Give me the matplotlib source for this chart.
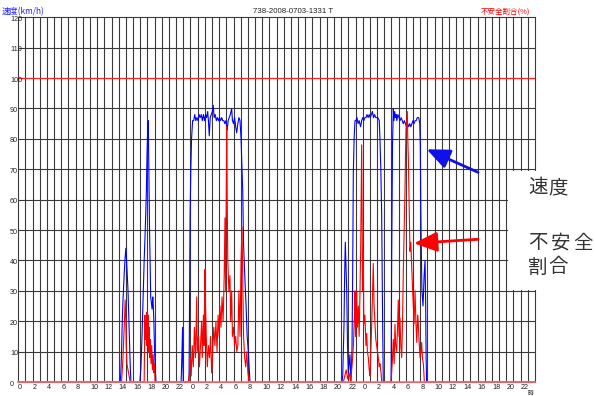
import matplotlib
matplotlib.use("Agg")
import matplotlib.pyplot as plt
from matplotlib.patches import Rectangle
from matplotlib.transforms import blended_transform_factory, offset_copy

plt.rcParams['font.family'] = ['Noto Sans CJK JP', 'DejaVu Sans']

# ---------------- data ----------------
title_text = "738-2008-0703-1331 T"
left_label = "速度(km/h)"
right_label = "不安全割合(%)"
y_ticks = list(range(0, 121, 10))
x_hours = list(range(0, 73))
x_tick_labels = [str(h % 24) if (h % 2 == 0 and h < 72) else "" for h in x_hours]

blue_hours = [0,
    14.2, 14.3, 14.4, 14.5, 14.6, 14.7, 14.8, 14.9, 15.0, 15.1, 15.2, 15.3, 15.4, 15.5, 15.6, 15.7,
    16.95, 17.1, 17.25, 17.4, 17.55, 17.7, 17.85, 17.95, 18.05, 18.12, 18.2, 18.3, 18.4, 18.46, 18.55,
    18.65, 18.75, 18.82, 18.9, 19.0, 19.1, 19.2,
    22.7, 22.8, 22.9, 22.95, 23.0, 23.8, 23.88, 23.95, 24.05, 24.15, 24.3, 24.45, 24.6, 24.75, 24.9,
    25.05, 25.2, 25.35, 25.5, 25.65, 25.8, 25.95, 26.1, 26.25, 26.4, 26.5, 26.62, 26.75, 26.9, 27.05,
    27.18, 27.3, 27.45, 27.6, 27.75, 27.9, 28.05, 28.2, 28.35, 28.5, 28.65, 28.8, 28.95, 29.05, 29.13,
    29.25, 29.4, 29.55, 29.74, 29.85, 30.0, 30.15, 30.3, 30.44, 30.6, 30.75, 30.9, 31.05, 31.15, 31.28,
    31.4, 31.6, 31.75, 31.9, 32.06, 32.15, 32.29,
    45.1, 45.21, 45.3, 45.39, 45.48, 45.57, 45.67, 45.77, 45.88, 45.99, 46.1, 46.22, 46.36, 46.5, 46.6,
    46.69, 46.8, 46.92, 47.05, 47.2, 47.35, 47.5, 47.6, 47.7, 47.85, 48.0, 48.15, 48.3, 48.45, 48.6,
    48.75, 48.9, 49.05, 49.2, 49.35, 49.5, 49.65, 49.8, 49.95, 50.1, 50.3, 50.4, 50.52, 50.64, 50.75,
    50.86, 51.95, 52.03, 52.15, 52.26, 52.35, 52.45, 52.55, 52.65, 52.75, 52.9, 53.05, 53.2, 53.35,
    53.5, 53.65, 53.8, 53.95, 54.1, 54.25, 54.4, 54.55, 54.7, 54.85, 55.0, 55.15, 55.3, 55.45, 55.6,
    55.8, 55.95, 56.02, 56.08, 56.15, 56.25, 56.4, 56.55, 56.68, 56.77, 56.83, 56.9,
    72]
blue_kmh = [0,
    0, 3, 10, 20, 27, 32, 37, 41, 44, 40, 35, 30, 22, 15, 6, 0,
    0, 5, 15, 28, 40, 50, 62, 75, 84, 86, 70, 50, 35, 28, 26,
    24, 28, 25, 20, 10, 4, 0,
    0, 8, 18, 6, 0, 0, 30, 55, 70, 80, 86, 86, 88, 86, 87,
    86, 88, 87, 88, 86, 88, 86, 88, 87, 89, 86, 81, 87, 88, 89,
    91, 87, 88, 86, 87, 86, 87, 86, 87, 86, 86, 85, 86, 84, 83,
    86, 87, 88, 90, 86, 85, 87, 84, 82, 85, 87, 86, 80, 72, 63,
    45, 33, 25, 15, 10, 6, 0,
    0, 2, 10, 19, 35, 46, 38, 30, 12, 3, 6, 9, 0, 10, 36,
    69, 80, 86, 86, 87, 85, 86, 85, 84, 86, 87, 86, 87, 87, 88,
    87, 88, 87, 88, 89, 87, 88, 87, 87, 87, 86, 80, 70, 55, 25,
    0, 0, 40, 78, 90, 86, 89, 87, 88, 86, 88, 87, 86, 87,
    86, 85, 86, 85, 84, 85, 84, 85, 84, 85, 86, 85, 86, 86, 87,
    87, 85, 78, 60, 45, 30, 25, 35, 40, 25, 8, 0,
    0]

red_hours = [0,
    14.4, 14.6, 14.8, 14.9, 15.0, 15.05, 15.15, 15.3, 15.45, 15.6,
    17.55, 17.6, 17.65, 17.72, 17.8, 17.88, 17.95, 18.02, 18.1, 18.18, 18.25, 18.33, 18.4, 18.5,
    18.6, 18.7, 18.8, 18.9, 19.0, 19.06,
    23.7, 23.85, 24.0, 24.1, 24.25, 24.4, 24.55, 24.7, 24.87, 24.95, 25.1, 25.25, 25.4, 25.55, 25.65,
    25.8, 25.9, 26.02, 26.1, 26.2, 26.35, 26.5, 26.65, 26.8, 26.95, 27.1, 27.25, 27.4, 27.55, 27.7,
    27.85, 28.0, 28.11, 28.25, 28.4, 28.55, 28.7, 28.81, 28.9, 29.05, 29.12, 29.2, 29.35, 29.5, 29.6,
    29.74, 29.85, 30.0, 30.15, 30.3, 30.45, 30.6, 30.75, 30.9, 31.05, 31.18, 31.28, 31.4, 31.55, 31.7,
    31.85, 32.0, 32.15,
    45.3, 45.5, 45.7, 45.9, 46.1, 46.3, 46.5, 46.7, 46.85, 46.92, 47.0, 47.06, 47.16, 47.25, 47.39,
    47.5, 47.62, 47.72, 47.85, 47.92, 47.98, 48.08, 48.15, 48.3, 48.45, 48.55, 48.65, 48.78, 48.9,
    49.01, 49.12, 49.25, 49.35, 49.47, 49.58, 49.71, 49.82, 49.94, 50.05, 50.17, 50.3, 50.4, 50.55,
    50.64,
    51.95, 52.03, 52.15, 52.26, 52.38, 52.49, 52.6, 52.73, 52.85, 52.95, 53.05, 53.19, 53.3, 53.43,
    53.55, 53.65, 53.78, 53.89, 53.96, 54.03, 54.12, 54.21, 54.28, 54.35, 54.42, 54.49, 54.58, 54.7,
    54.82, 54.96, 55.05, 55.15, 55.29, 55.4, 55.53, 55.65, 55.75, 55.88, 55.99, 56.1, 56.21, 56.32,
    56.44, 56.52, 56.58,
    72]
red_pct = [0,
    0, 8, 20, 27, 20, 12, 6, 4, 2, 0,
    0, 10, 22, 14, 20, 12, 23, 16, 22, 10, 18, 8, 14, 6,
    12, 4, 9, 3, 6, 0,
    0, 3, 8, 2, 12, 5, 18, 8, 28, 10, 15, 5, 12, 20, 8,
    22, 12, 37, 25, 15, 5, 12, 8, 15, 3, 10, 18, 12, 20, 10,
    22, 15, 25, 18, 28, 20, 35, 54, 30, 84, 60, 40, 30, 35, 20,
    30, 15, 18, 12, 15, 10, 12, 30, 15, 40, 51, 35, 15, 8, 5,
    10, 3, 0,
    0, 2, 4, 1, 3, 0, 5, 12, 22, 30, 15, 19, 30, 18, 25,
    15, 30, 45, 78, 50, 30, 43, 19, 22, 12, 16, 10, 8, 4,
    2, 10, 19, 28, 39, 25, 19, 14, 12, 10, 8, 5, 6, 3,
    0,
    0, 3, 8, 14, 6, 19, 12, 10, 18, 27, 15, 21, 12, 8,
    20, 36, 50, 63, 75, 83, 86, 89, 80, 74, 65, 57, 43, 46,
    38, 30, 25, 19, 30, 20, 13, 22, 19, 12, 8, 10, 13, 8,
    6, 3, 0,
    0]

# ---------------- figure ----------------
W, H = 595, 396
fig = plt.figure(figsize=(W / 100, H / 100), dpi=100)
x_left, x_right = 18.2, 535.0
y_top, y_bot = 17.3, 382.0
ax = fig.add_axes([x_left / W, 1 - y_bot / H, (x_right - x_left) / W, (y_bot - y_top) / H])
ax.set_xlim(0, 72)
ax.set_ylim(0, 120)

grid_c = '#3a3a3a'
for h in x_hours[1:-1]:
    ax.axvline(h, color=grid_c, lw=0.8, zorder=1)
for v in y_ticks[1:-1]:
    ax.axhline(v, color=grid_c, lw=0.8, zorder=1)
ax.axhline(100, color='#ff2020', lw=0.8, zorder=2)

ax.plot(blue_hours, blue_kmh, color='#0000ff', lw=0.8, zorder=3)
ax.plot(red_hours, red_pct, color='#ff0000', lw=0.8, zorder=4)
ax.axhline(0, color='#ff7070', lw=1.2, zorder=5, clip_on=False)

for s in ax.spines.values():
    s.set_color(grid_c)
    s.set_linewidth(0.8)

ax.set_xticks(x_hours)
ax.set_xticklabels(x_tick_labels, fontsize=5.2, family='Liberation Sans', color='#222222')
for lab in ax.get_xticklabels():
    lab.set_horizontalalignment('left')
ax.tick_params(axis='x', length=0, pad=1.5)
ax.set_yticks([])

trans = blended_transform_factory(fig.transFigure, ax.transData)
trans = offset_copy(trans, fig=fig, x=0, y=-2.0, units='dots')
for v in y_ticks:
    ax.text(10 / W, v, str(v), transform=trans, ha='left', va='center',
            fontsize=5.2, family='Liberation Sans', color='#222222', clip_on=False)

# header texts
fig.text(2 / W, 1 - 11.5 / H, left_label, ha='left', va='center', fontsize=6.0, color='#2020ff')
fig.text(293 / W, 1 - 11.5 / H, title_text, ha='center', va='center', fontsize=5.7,
         family='Liberation Sans', color='#222222')
fig.text(530 / W, 1 - 11.5 / H, right_label, ha='right', va='center', fontsize=5.4, color='#ff0000')
fig.text(531 / W, 1 - 393.5 / H, "時", ha='center', va='center', fontsize=4.3, color='#222222')

# white legend panel
fig.add_artist(Rectangle((507.5 / W, 1 - 290.2 / H), (W - 507.5) / W, (290.2 - 170.8) / H,
                         transform=fig.transFigure, facecolor='white', edgecolor='none', zorder=5))
txt_c = '#333333'
fig.text(528 / W, 1 - 187.5 / H, "速", ha='left', va='center', fontsize=14, color=txt_c, zorder=6)
fig.text(548 / W, 1 - 187.5 / H, "度", ha='left', va='center', fontsize=14, color=txt_c, zorder=6)
for i, ch in enumerate("不安全"):
    fig.text((528 + 22.5 * i) / W, 1 - 243 / H, ch, ha='left', va='center', fontsize=14,
             color=txt_c, zorder=6)
fig.text(528 / W, 1 - 267 / H, "割", ha='left', va='center', fontsize=14, color=txt_c, zorder=6)
fig.text(548 / W, 1 - 267 / H, "合", ha='left', va='center', fontsize=14, color=txt_c, zorder=6)

# arrows
ax.annotate('', xy=(426.7, H - 149.3), xycoords='figure pixels',
            xytext=(478, H - 172.3), textcoords='figure pixels',
            arrowprops=dict(arrowstyle='-|>,head_length=0.7,head_width=0.3', color='#1010e8',
                            lw=2, mutation_scale=20, shrinkA=0, shrinkB=0), zorder=7)
ax.annotate('', xy=(414, H - 243.3), xycoords='figure pixels',
            xytext=(478, H - 239.3), textcoords='figure pixels',
            arrowprops=dict(arrowstyle='-|>,head_length=0.7,head_width=0.3', color='#ff0000',
                            lw=2, mutation_scale=20, shrinkA=0, shrinkB=0), zorder=7)

fig.savefig('out.png', dpi=100)
